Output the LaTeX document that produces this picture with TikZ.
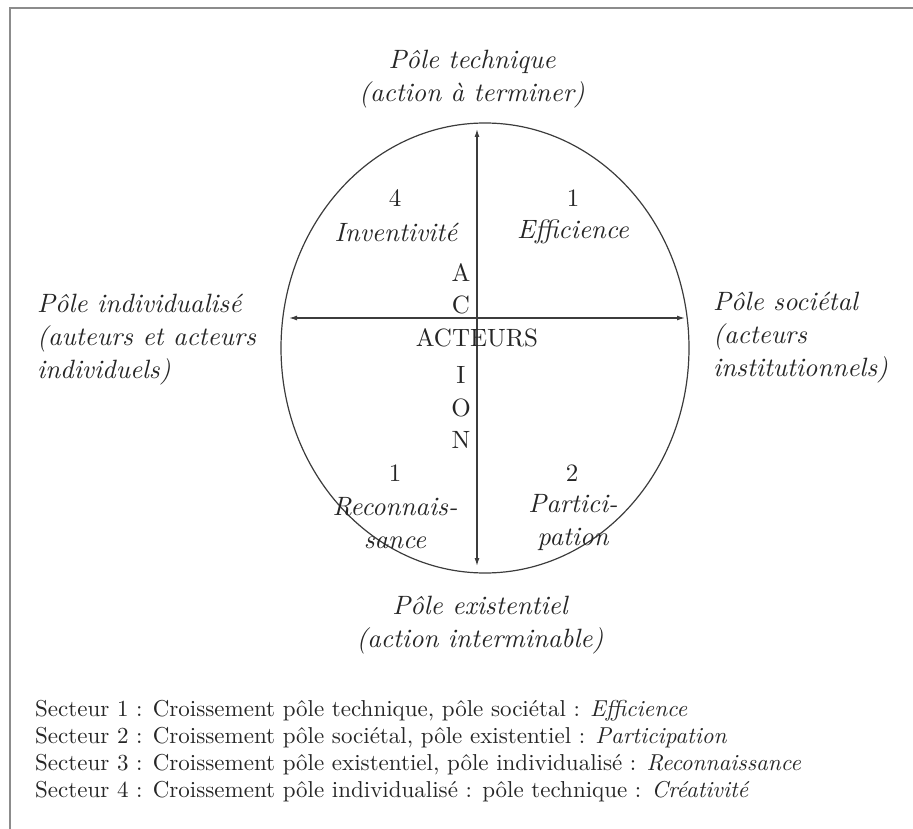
\documentclass[tikz,border=0pt]{standalone}
\usepackage{fontspec}
\setmainfont{lmroman10}[Extension=.otf,UprightFont=*-regular,ItalicFont=*-italic]
\usetikzlibrary{shapes.geometric,arrows.meta}
\definecolor{frameg}{gray}{0.55}
\definecolor{inkg}{gray}{0.15}
\tikzset{
  pole/.style={font=\itshape\fontsize{26.5}{33}\selectfont,text=inkg,inner sep=0pt},
  secteur/.style={font=\itshape\fontsize{26.5}{33}\selectfont,text=inkg,inner sep=0pt,align=center},
  lettre/.style={font=\fontsize{25}{30}\selectfont,text=inkg,inner sep=0pt},
  axe/.style={line width=1.3pt,draw=inkg!90,{Latex[length=8pt,width=5pt]}-{Latex[length=8pt,width=5pt]}}
}
\begin{document}
\begin{tikzpicture}[x=1pt,y=-1pt]
\useasboundingbox (0,0) rectangle (913,829);
\draw[frameg,line width=2.5pt] (10,829) -- (10,8) -- (913,8);

\node[ellipse,draw=inkg!90,line width=1.2pt,minimum width=408pt,minimum height=450pt,inner sep=0pt] (ell) at (485,348) {};

\coordinate (haut) at (477,129);
\coordinate (bas) at (477,566);
\coordinate (gauche) at (289,318);
\coordinate (droite) at (685,318);

\draw [axe] (bas) -- (haut);
\draw [axe] (gauche) -- (droite);

\node[pole,align=center] (polT) at (472,79) {Pôle technique\\(action à terminer)};
\node[pole,align=center] (polE) at (480,625) {Pôle existentiel\\(action interminable)};
\node[pole,align=left,anchor=west] (polI) at (37,340) {Pôle individualisé\\(auteurs et acteurs\\individuels)};
\node[pole,align=left,anchor=west] (polS) at (713,338) {Pôle sociétal\\(acteurs\\institutionnels)};

\node[lettre] (n4) at (395,198) {4};
\node[secteur] (s4) at (396,232) {Inventivité};
\node[lettre] (n1) at (573,198) {1};
\node[secteur] (s1) at (573,232) {Efficience};
\node[lettre] (n3) at (395,473) {1};
\node[secteur] (s3) at (395,523) {Reconnais-\\sance};
\node[lettre] (n2) at (572,473) {2};
\node[secteur] (s2) at (573,523) {Partici-\\pation};

\node[lettre] (lA) at (461,273) {A};
\node[lettre] (lC) at (461,305) {C};
\node[lettre] (act) at (477,338) {ACTEURS};
\node[lettre] (lI) at (461,375) {I};
\node[lettre] (lO) at (461,408) {O};
\node[lettre] (lN) at (461,440) {N};

\node[anchor=west,align=left,inner sep=0pt,text=inkg,font=\fontsize{23}{27}\selectfont] (legende) at (35,751) {%
Secteur 1 : Croissement pôle technique, pôle sociétal : \textit{Efficience}\\
Secteur 2 : Croissement pôle sociétal, pôle existentiel : \textit{Participation}\\
Secteur 3 : Croissement pôle existentiel, pôle individualisé : \textit{Reconnaissance}\\
Secteur 4 : Croissement pôle individualisé : pôle technique : \textit{Créativité}};
\end{tikzpicture}
\end{document}
